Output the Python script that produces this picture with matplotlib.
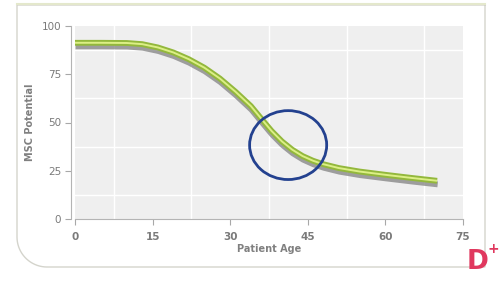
import numpy as np
import matplotlib
matplotlib.use("Agg")
import matplotlib.pyplot as plt
import matplotlib.patheffects as pe
from matplotlib.patches import Ellipse
from matplotlib.lines import Line2D

# data
age = [0, 5, 10, 13, 16, 19, 22, 25, 28, 31, 34, 36, 38, 40, 42, 44, 46, 48, 51, 55, 60, 65, 70]
msc = [91.3, 91.3, 91.2, 90.6, 88.9, 86.3, 82.8, 78.4, 72.8, 66.0, 58.5, 52.0, 45.6,
       40.2, 35.9, 32.6, 30.2, 28.4, 26.4, 24.6, 22.9, 21.3, 19.8]
x_ticks = [0, 15, 30, 45, 60, 75]
y_ticks = [0, 25, 50, 75, 100]
circle_center = (41.2, 38.3)
circle_size = (14.9, 35.7)

W, H = 503, 283
fig = plt.figure(figsize=(W / 100, H / 100), dpi=100)
fig.patch.set_facecolor("white")

# frame around the chart, rounded bottom-left corner
r = 30
t = np.linspace(np.pi, 1.5 * np.pi, 20)
fx = [485, 17, 17] + list(17 + r + r * np.cos(t)) + [485, 485]
fy = [5, 5, 267 - r] + list(267 - r - r * np.sin(t)) + [267, 5]
fig.add_artist(Line2D(np.array(fx) / W, 1 - np.array(fy) / H, transform=fig.transFigure,
                      color="#d4d4cc", lw=1.0, solid_joinstyle="miter"))
fig.add_artist(Line2D([17 / W, 485 / W], [1 - 4 / H, 1 - 4 / H], transform=fig.transFigure,
                      color="#e4e8cc", lw=1.5))

ax = fig.add_axes([75 / W, (H - 219) / H, 388 / W, 193 / H])
ax.set_facecolor("#efefef")
ax.set_xlim(0, 75)
ax.set_ylim(0, 100)

ax.set_xticks(np.arange(0, 75.1, 7.5), minor=True)
ax.set_yticks(np.arange(0, 100.1, 12.5), minor=True)
ax.grid(True, which="minor", color="white", lw=1.0)
ax.tick_params(which="minor", length=0)
ax.set_axisbelow(True)

ax.set_xticks(x_ticks)
ax.set_yticks(y_ticks)
ax.tick_params(which="major", colors="#a8a8a8", labelcolor="#7a7a7a", labelsize=7.5,
               length=4, width=0.8)
for lab in ax.get_xticklabels() + ax.get_yticklabels():
    lab.set_fontweight("bold")

for s in ["top", "right"]:
    ax.spines[s].set_visible(False)
ax.spines["left"].set_position(("outward", 3))
ax.spines["left"].set_color("#b4b4b4")
ax.spines["bottom"].set_color("#b4b4b4")
ax.tick_params(axis="x", pad=5)
ax.tick_params(axis="y", pad=3)

ax.set_xlabel("Patient Age", fontsize=7, fontweight="bold", color="#808080", labelpad=2)
ax.set_ylabel("MSC Potential", fontsize=7, fontweight="bold", color="#808080", labelpad=5)

ax.plot(age, msc, color="#dcef86", lw=1.4, solid_capstyle="butt",
        path_effects=[pe.SimpleLineShadow(offset=(0.4, -2.6), shadow_color="#7a7a7a",
                                          alpha=0.7, linewidth=4.2),
                      pe.Stroke(linewidth=4.2, foreground="#93b83c"),
                      pe.Normal()])

ax.add_patch(Ellipse(circle_center, circle_size[0], circle_size[1], fill=False,
                     edgecolor="#23418f", lw=2.0, zorder=5))

# watermark logo
fig.text(467 / W, 1 - 262 / H, "D", color="#e0385e", fontsize=19, fontweight="bold",
         ha="left", va="center")
fig.text(493 / W, 1 - 249 / H, "+", color="#e0385e", fontsize=10, fontweight="bold",
         ha="center", va="center")

fig.savefig("out.png", dpi=100)
